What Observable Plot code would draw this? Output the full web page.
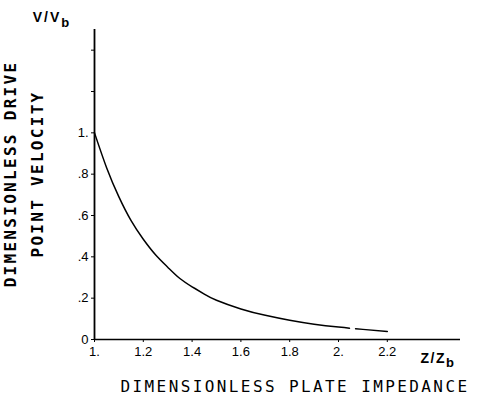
<!DOCTYPE html>
<html>
<head>
<meta charset="utf-8">
<script src="https://cdn.jsdelivr.net/npm/d3@7"></script>
<script src="https://cdn.jsdelivr.net/npm/@observablehq/plot@0.6"></script>
<style>
  html, body { margin: 0; padding: 0; background: #fff; }
  #chart { width: 477px; height: 396px; overflow: hidden; }
</style>
</head>
<body>
<div id="chart"></div>
<script>
// Dimensionless plate impedance (Z/Zb) and drive point velocity (V/Vb)
const zValues = [1.00, 1.05, 1.10, 1.15, 1.20, 1.25, 1.30, 1.35, 1.40, 1.45, 1.50, 1.60, 1.70, 1.80, 1.90, 2.00, 2.045, 2.058, 2.07, 2.10, 2.20];
const vValues = [1.00, 0.83, 0.69, 0.575, 0.485, 0.41, 0.35, 0.295, 0.255, 0.22, 0.19, 0.148, 0.117, 0.093, 0.074, 0.060, 0.055, null, 0.052, 0.049, 0.039];

const xTicks = [1.0, 1.2, 1.4, 1.6, 1.8, 2.0, 2.2];
const xTickLabels = ["1.", "1.2", "1.4", "1.6", "1.8", "2.", "2.2"];
const yTicks = [0, 0.2, 0.4, 0.6, 0.8, 1.0, 1.2, 1.4];
const yTickLabels = ["0", ".2", ".4", ".6", ".8", "1.", "", ""];

const xLabel = "DIMENSIONLESS PLATE IMPEDANCE";
const yLabelLines = ["DIMENSIONLESS DRIVE", "POINT VELOCITY"];

const data = zValues.map((z, i) => ({z, v: vValues[i]}));

const W = 477, H = 396;
const plot = Plot.plot({
  width: W,
  height: H,
  marginLeft: 94,
  marginRight: 17,
  marginTop: 29,
  marginBottom: 57,
  style: {fontFamily: "'Liberation Sans', Arial, sans-serif", fontSize: "13px", color: "#000", background: "#fff"},
  x: {domain: [1, 2.5]},
  y: {domain: [0, 1.5]},
  marks: [
    Plot.axisX({ticks: xTicks, tickFormat: (d) => xTickLabels[xTicks.indexOf(d)], tickSize: 3, tickPadding: 4, label: null, stroke: "#000", fontSize: 13}),
    Plot.axisY({ticks: yTicks, tickFormat: (d) => yTickLabels[yTicks.indexOf(d)], tickSize: 3, tickPadding: 3, label: null, stroke: "#000", fontSize: 13}),
    Plot.ruleX([1], {stroke: "#000", strokeWidth: 1.8}),
    Plot.ruleY([0], {stroke: "#000", strokeWidth: 1.6}),
    Plot.line(data, {x: "z", y: "v", stroke: "#000", strokeWidth: 1.5, curve: "natural"})
  ]
});
document.getElementById("chart").appendChild(plot);

const svg = d3.select(plot);
// Top-left y unit label
const t1 = svg.append("text")
  .attr("x", 52).attr("y", 22)
  .attr("font-family", "'Liberation Sans', Arial, sans-serif")
  .attr("font-size", 14).attr("font-weight", "bold")
  .attr("letter-spacing", 2)
  .attr("fill", "#000");
t1.append("tspan").text("V/V");
t1.append("tspan").attr("dy", 5).attr("font-size", 13).text("b");

// Right x unit label
const t2 = svg.append("text")
  .attr("x", 438).attr("y", 363)
  .attr("font-family", "'Liberation Sans', Arial, sans-serif")
  .attr("font-size", 14).attr("font-weight", "bold")
  .attr("letter-spacing", 1.5)
  .attr("fill", "#000");
t2.append("tspan").text("Z/Z");
t2.append("tspan").attr("dy", 4).attr("font-size", 13).text("b");

// Bottom axis title
svg.append("text")
  .attr("x", 295).attr("y", 392)
  .attr("text-anchor", "middle")
  .attr("font-family", "'DejaVu Sans Mono', monospace")
  .attr("font-size", 16)
  .attr("letter-spacing", 2.4)
  .attr("fill", "#000")
  .text(xLabel);

// Left axis title (two rotated lines)
const yl = [16, 43];
yLabelLines.forEach((line, i) => {
  svg.append("text")
    .attr("transform", `translate(${yl[i]},174) rotate(-90)`)
    .attr("text-anchor", "middle")
    .attr("font-family", "'DejaVu Sans Mono', monospace")
    .attr("font-size", 16)
    .attr("font-weight", "bold")
    .attr("letter-spacing", 2.3)
    .attr("fill", "#000")
    .text(line);
});
</script>
</body>
</html>
